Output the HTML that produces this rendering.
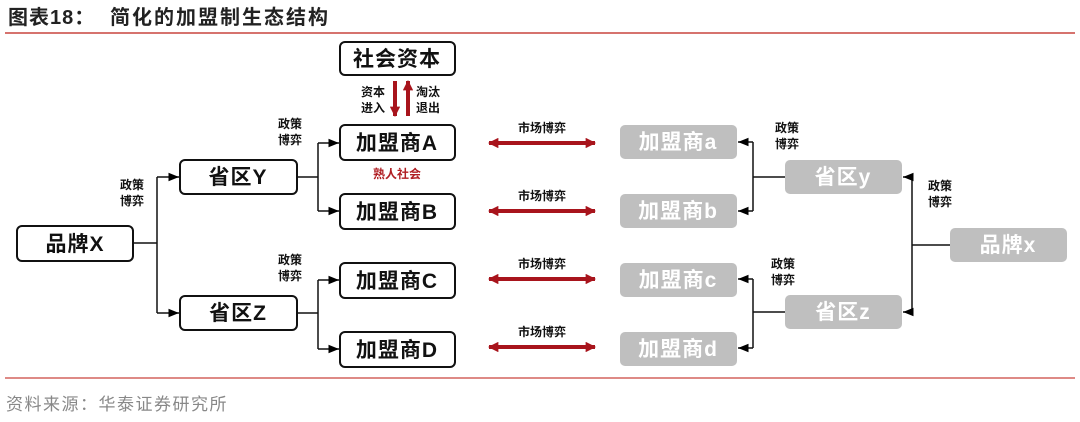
<!DOCTYPE html>
<html><head><meta charset="utf-8"><style>
body{margin:0;width:1080px;height:417px;background:#fff;overflow:hidden}
svg text{font-family:"Liberation Sans","Noto Sans CJK SC",sans-serif;font-weight:bold}
</style></head><body>
<svg width="1080" height="417" viewBox="0 0 1080 417" xmlns="http://www.w3.org/2000/svg">
<defs>
<marker id="a" viewBox="0 0 10 10" refX="10" refY="5" markerWidth="7" markerHeight="7" orient="auto-start-reverse"><path d="M0,1 L10,5 L0,9 z" fill="#000"/></marker>
<marker id="r" viewBox="0 0 10 10" refX="9" refY="5" markerWidth="2.6" markerHeight="2.6" orient="auto-start-reverse"><path d="M0,0 L10,5 L0,10 z" fill="#a8141c"/></marker>
</defs>
<text x="8" y="24" font-size="20" fill="#222" letter-spacing="1">图表18：</text>
<text x="110" y="24" font-size="20" fill="#222" letter-spacing="2">简化的加盟制生态结构</text>
<line x1="5" y1="33" x2="1075" y2="33" stroke="#c9453f" stroke-width="1.5"/>
<line x1="5" y1="378" x2="1075" y2="378" stroke="#c9453f" stroke-width="1.2"/>
<text x="6" y="410" font-size="17" fill="#888" letter-spacing="1.5" style="font-weight:normal">资料来源：华泰证券研究所</text>

<g fill="#fff" stroke="#111" stroke-width="2">
<rect x="340" y="42" width="115" height="33" rx="5"/>
<rect x="340" y="125" width="115" height="35" rx="5"/>
<rect x="340" y="194" width="115" height="35" rx="5"/>
<rect x="340" y="263" width="115" height="35" rx="5"/>
<rect x="340" y="332" width="115" height="35" rx="5"/>
<rect x="180" y="160" width="117" height="34" rx="5"/>
<rect x="180" y="296" width="117" height="34" rx="5"/>
<rect x="17" y="226" width="116" height="35" rx="5"/>
</g>
<g fill="#bfbfbf">
<rect x="620" y="125" width="117" height="34" rx="5"/>
<rect x="620" y="194" width="117" height="34" rx="5"/>
<rect x="620" y="263" width="117" height="34" rx="5"/>
<rect x="620" y="332" width="117" height="34" rx="5"/>
<rect x="785" y="160" width="117" height="34" rx="5"/>
<rect x="785" y="295" width="117" height="34" rx="5"/>
<rect x="950" y="228" width="117" height="34" rx="5"/>
</g>
<g font-size="21" text-anchor="middle" fill="#111" letter-spacing="1">
<text x="397" y="66">社会资本</text>
<text x="397" y="150">加盟商A</text>
<text x="397" y="219">加盟商B</text>
<text x="397" y="288">加盟商C</text>
<text x="397" y="357">加盟商D</text>
<text x="238" y="184">省区Y</text>
<text x="238" y="320">省区Z</text>
<text x="75" y="251">品牌X</text>
</g>
<g font-size="21" text-anchor="middle" fill="#fff" letter-spacing="1">
<text x="678" y="149">加盟商a</text>
<text x="678" y="218">加盟商b</text>
<text x="678" y="287">加盟商c</text>
<text x="678" y="356">加盟商d</text>
<text x="843" y="184">省区y</text>
<text x="843" y="319">省区z</text>
<text x="1008" y="252">品牌x</text>
</g>
<g fill="none" stroke="#111" stroke-width="1.5">
<path d="M133,243 H157 M157,177 V313"/>
<path d="M157,177 H179" marker-end="url(#a)"/><path d="M157,313 H179" marker-end="url(#a)"/>
<path d="M297,177 H318 M318,143 V211"/>
<path d="M318,143 H339" marker-end="url(#a)"/><path d="M318,211 H339" marker-end="url(#a)"/>
<path d="M297,313 H318 M318,280 V349"/>
<path d="M318,280 H339" marker-end="url(#a)"/><path d="M318,349 H339" marker-end="url(#a)"/>
<path d="M950,245 H912 M912,177 V312"/>
<path d="M912,177 H903" marker-end="url(#a)"/><path d="M912,312 H903" marker-end="url(#a)"/>
<path d="M785,177 H753 M753,142 V211"/>
<path d="M753,142 H738" marker-end="url(#a)"/><path d="M753,211 H738" marker-end="url(#a)"/>
<path d="M785,312 H753 M753,279 V348"/>
<path d="M753,279 H738" marker-end="url(#a)"/><path d="M753,348 H738" marker-end="url(#a)"/>
</g>
<g stroke="#a8141c" stroke-width="4" fill="none">
<path d="M489,143 H595" marker-start="url(#r)" marker-end="url(#r)"/>
<path d="M489,211 H595" marker-start="url(#r)" marker-end="url(#r)"/>
<path d="M489,279 H595" marker-start="url(#r)" marker-end="url(#r)"/>
<path d="M489,347 H595" marker-start="url(#r)" marker-end="url(#r)"/>
<path d="M395,81 V116" marker-end="url(#r)"/>
<path d="M408,116 V81" marker-end="url(#r)"/>
</g>
<g font-size="12" fill="#111" text-anchor="middle">
<text x="542" y="132">市场博弈</text>
<text x="542" y="200">市场博弈</text>
<text x="542" y="268">市场博弈</text>
<text x="542" y="336">市场博弈</text>
<text x="373" y="96">资本</text><text x="373" y="112">进入</text>
<text x="428" y="96">淘汰</text><text x="428" y="112">退出</text>
<text x="290" y="128">政策</text><text x="290" y="144">博弈</text>
<text x="132" y="189">政策</text><text x="132" y="205">博弈</text>
<text x="290" y="264">政策</text><text x="290" y="280">博弈</text>
<text x="787" y="132">政策</text><text x="787" y="148">博弈</text>
<text x="940" y="190">政策</text><text x="940" y="206">博弈</text>
<text x="783" y="268">政策</text><text x="783" y="284">博弈</text>
<text x="397" y="178" fill="#b01e23">熟人社会</text>
</g>
</svg>
</body></html>
